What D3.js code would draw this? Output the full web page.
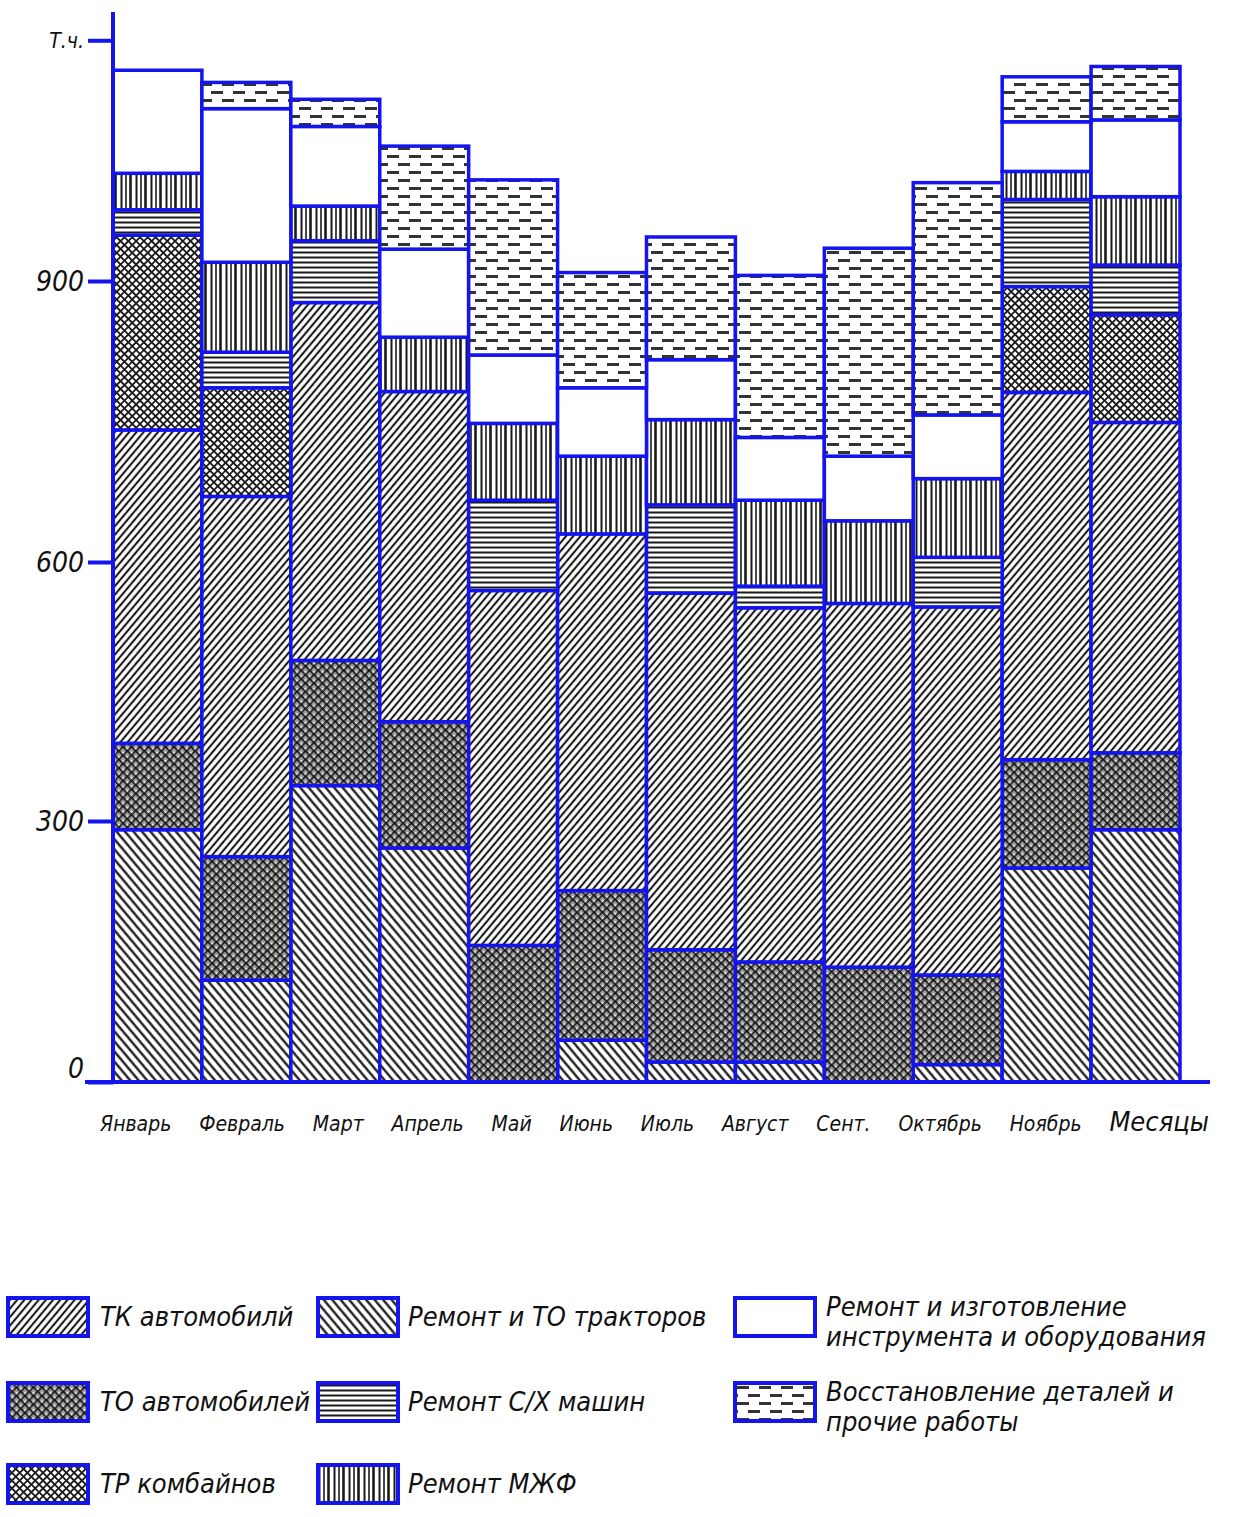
<!DOCTYPE html>
<html>
<head>
<meta charset="utf-8">
<script src="https://cdn.jsdelivr.net/npm/d3@7"></script>
<style>
  body { margin: 0; background: #fff; }
  svg text { font-family: "DejaVu Sans Condensed", "DejaVu Sans", sans-serif; font-style: italic; font-stretch: condensed; fill: #111; }
</style>
</head>
<body>
<svg id="chart"></svg>
<script>
    // подписи по оси X (последний столбец подписан "Месяцы")
    const months = ["Январь", "Февраль", "Март", "Апрель", "Май", "Июнь", "Июль", "Август", "Сент.", "Октябрь", "Ноябрь", "Месяцы"]

    // трудоёмкость, т.ч. (снизу вверх)
    const tractors = [290, 117, 341, 269, 0, 48, 23, 23, 0, 20, 246, 290]
    const toAuto   = [100, 142, 145, 146, 157, 172, 129, 115, 132, 103, 125, 89]
    const tkAuto   = [351, 411, 391, 367, 410, 410, 412, 409, 420, 425, 410, 370]
    const trComb   = [208, 116, 0, 0, 0, 0, 0, 0, 0, 0, 113, 115]
    const sxMash   = [27, 38, 66, 0, 99, 0, 97, 25, 0, 57, 93, 53]
    const mzhf     = [39, 96, 37, 58, 82, 83, 91, 94, 92, 84, 30, 73]
    const instr    = [110, 164, 85, 94, 73, 73, 64, 67, 69, 68, 53, 82]
    const vosst    = [0, 28, 29, 110, 187, 123, 131, 173, 222, 248, 48, 57]

    // деления оси Y
    const yTicks = [0, 300, 600, 900]
    const unitTick = 1157
    const unitLabel = "Т.ч."

    const keys = ["tractors", "toAuto", "tkAuto", "trComb", "sxMash", "mzhf", "instr", "vosst"]
    const series = {tractors, toAuto, tkAuto, trComb, sxMash, mzhf, instr, vosst}

    // легенда: [ключ, строки текста]
    const legendItems = [
      ["tkAuto", ["ТК автомобилй"]],
      ["toAuto", ["ТО автомобилей"]],
      ["trComb", ["ТР комбайнов"]],
      ["tractors", ["Ремонт и ТО тракторов"]],
      ["sxMash", ["Ремонт С/Х машин"]],
      ["mzhf", ["Ремонт МЖФ"]],
      ["instr", ["Ремонт и изготовление", "инструмента и оборудования"]],
      ["vosst", ["Восстановление деталей и", "прочие работы"]]
    ]

    const width = 1239
    const height = 1517
    const blue = "#1414ee"
    const data = months.map((m, i) => {
      const row = {month: m}
      keys.forEach(k => row[k] = series[k][i])
      return row
    })

    const svg = d3.select("#chart")
      .attr("width", width)
      .attr("height", height)
      .attr("viewBox", [0, 0, width, height])

    svg.append("rect").attr("width", width).attr("height", height).attr("fill", "#fff")

    // ---------- штриховки ----------
    const defs = svg.append("defs")

    function hatch(id, angle, s, sw, bg) {
      const p = defs.append("pattern").attr("id", id)
        .attr("patternUnits", "userSpaceOnUse")
        .attr("width", s).attr("height", s)
        .attr("patternTransform", `rotate(${angle})`)
      p.append("rect").attr("width", s).attr("height", s).attr("fill", bg)
      p.append("line").attr("x1", s / 2).attr("y1", 0).attr("x2", s / 2).attr("y2", s)
        .attr("stroke", "#1a1a1a").attr("stroke-width", sw)
      return p
    }

    hatch("pat-tkAuto", 40, 5.5, 2.1, "#fff")
    hatch("pat-tractors", -40, 6.5, 2.3, "#fff")

    // пёстрая сетка с серым фоном (ТО автомобилей)
    const pTo = hatch("pat-toAuto", 45, 6, 1.7, "#9c9c9c")
    pTo.append("line").attr("x1", 0).attr("y1", 3).attr("x2", 6).attr("y2", 3)
      .attr("stroke", "#111").attr("stroke-width", 1.7)
    pTo.append("rect").attr("x", 0.2).attr("y", 0.2).attr("width", 2).attr("height", 2).attr("fill", "#f2f2f2")

    // светлая сетка (ТР комбайнов): чёрная решётка с белыми просветами
    const pTr = hatch("pat-trComb", 45, 5.5, 1.8, "#fff")
    pTr.append("line").attr("x1", 0).attr("y1", 2.75).attr("x2", 5.5).attr("y2", 2.75)
      .attr("stroke", "#1a1a1a").attr("stroke-width", 1.8)

    // горизонтальные линии
    const pH = defs.append("pattern").attr("id", "pat-sxMash")
      .attr("patternUnits", "userSpaceOnUse").attr("width", 10).attr("height", 5)
    pH.append("rect").attr("width", 10).attr("height", 5).attr("fill", "#fff")
    pH.append("line").attr("x1", 0).attr("y1", 2.5).attr("x2", 10).attr("y2", 2.5)
      .attr("stroke", "#1a1a1a").attr("stroke-width", 2)

    // вертикальные линии (неровные)
    const pV = defs.append("pattern").attr("id", "pat-mzhf")
      .attr("patternUnits", "userSpaceOnUse").attr("width", 15).attr("height", 10)
    pV.append("rect").attr("width", 15).attr("height", 10).attr("fill", "#fff")
    ;[[1.5, 2], [6, 1.6], [10.5, 2.6]].forEach(([lx, w]) =>
      pV.append("line").attr("x1", lx).attr("y1", 0).attr("x2", lx).attr("y2", 10)
        .attr("stroke", "#1a1a1a").attr("stroke-width", w))

    // пустая
    const pW = defs.append("pattern").attr("id", "pat-instr")
      .attr("patternUnits", "userSpaceOnUse").attr("width", 10).attr("height", 10)
    pW.append("rect").attr("width", 10).attr("height", 10).attr("fill", "#fff")

    // штрихи (восстановление деталей)
    const pD = defs.append("pattern").attr("id", "pat-vosst")
      .attr("patternUnits", "userSpaceOnUse").attr("width", 22).attr("height", 16)
    pD.append("rect").attr("width", 22).attr("height", 16).attr("fill", "#fff")
    ;[[2, 3], [13, 11], [-9, 11]].forEach(([dx, dy]) =>
      pD.append("rect").attr("x", dx).attr("y", dy).attr("width", 12).attr("height", 3)
        .attr("fill", "#333"))

    // ---------- шкалы ----------
    const x = d3.scaleBand()
      .domain(months)
      .range([113, 1180])
      .padding(0)

    // ось нарисована от руки: деления стоят неравномерно
    const y = d3.scaleLinear()
      .domain(yTicks)
      .range([1082, 821, 562, 281])

    // ---------- столбцы ----------
    const stacked = d3.stack().keys(keys)(data)

    svg.append("g")
      .attr("class", "bars")
      .selectAll("g")
      .data(stacked)
      .join("g")
      .attr("fill", d => `url(#pat-${d.key})`)
      .selectAll("rect")
      .data(d => d.filter(s => s[1] > s[0]))
      .join("rect")
      .attr("x", d => x(d.data.month))
      .attr("y", d => y(d[1]))
      .attr("width", x.bandwidth())
      .attr("height", d => y(d[0]) - y(d[1]))
      .attr("stroke", blue)
      .attr("stroke-width", 3.5)

    // ---------- оси ----------
    const yAxis = g => g
      .attr("transform", `translate(${x.range()[0]},0)`)
      .call(d3.axisLeft(y)
        .tickValues([...yTicks, unitTick])
        .tickSize(25)
        .tickPadding(4)
        .tickFormat(d => d === unitTick ? unitLabel : d))
      .call(g => g.select(".domain").remove())
      .call(g => g.selectAll(".tick line").attr("stroke", blue).attr("stroke-width", 4))
      .call(g => g.selectAll(".tick text")
        .attr("font-size", d => d === unitTick ? 21 : 28)
        .attr("dy", d => d === 0 ? "-0.15em" : "0.35em")
        .attr("fill", "#111"))

    svg.append("g").attr("class", "y-axis").call(yAxis)

    svg.append("line")
      .attr("x1", x.range()[0]).attr("x2", x.range()[0])
      .attr("y1", 12).attr("y2", y(0))
      .attr("stroke", blue).attr("stroke-width", 4)

    svg.append("line")
      .attr("x1", 85).attr("x2", 1210)
      .attr("y1", y(0)).attr("y2", y(0))
      .attr("stroke", blue).attr("stroke-width", 4)

    // подписи месяцев идут сплошной строкой
    const labels = svg.append("g").attr("class", "x-labels")
      .selectAll("text")
      .data(months)
      .join("text")
      .attr("y", 1131)
      .attr("font-size", (d, i) => i === months.length - 1 ? 27 : 21)
      .text(d => d)
    const widths = labels.nodes().map(n => n.getComputedTextLength())
    const rowStart = 100, rowEnd = 1209
    const gap = (rowEnd - rowStart - d3.sum(widths)) / (months.length - 1)
    let cursor = rowStart
    labels.attr("x", (d, i) => {
      const pos = cursor
      cursor += widths[i] + gap
      return pos
    })

    // ---------- легенда ----------
    const legendCols = [[8, 100], [318, 408], [735, 826]]
    const legendRows = [1298, 1383, 1465]
    const legend = svg.append("g").attr("class", "legend")
      .selectAll("g")
      .data(legendItems)
      .join("g")
      .attr("transform", (d, i) =>
        `translate(${legendCols[Math.floor(i / 3)][0]},${legendRows[i % 3]})`)

    legend.append("rect")
      .attr("width", 80)
      .attr("height", 38)
      .attr("fill", d => `url(#pat-${d[0]})`)
      .attr("stroke", blue)
      .attr("stroke-width", 4)

    legend.append("text")
      .attr("x", (d, i) => legendCols[Math.floor(i / 3)][1] - legendCols[Math.floor(i / 3)][0])
      .attr("y", d => d[1].length > 1 ? 18 : 28)
      .attr("font-size", 27)
      .selectAll("tspan")
      .data(d => d[1])
      .join("tspan")
      .attr("x", function () { return d3.select(this.parentNode).attr("x") })
      .attr("dy", (d, i) => i === 0 ? 0 : 30)
      .text(d => d)
</script>
</body>
</html>
